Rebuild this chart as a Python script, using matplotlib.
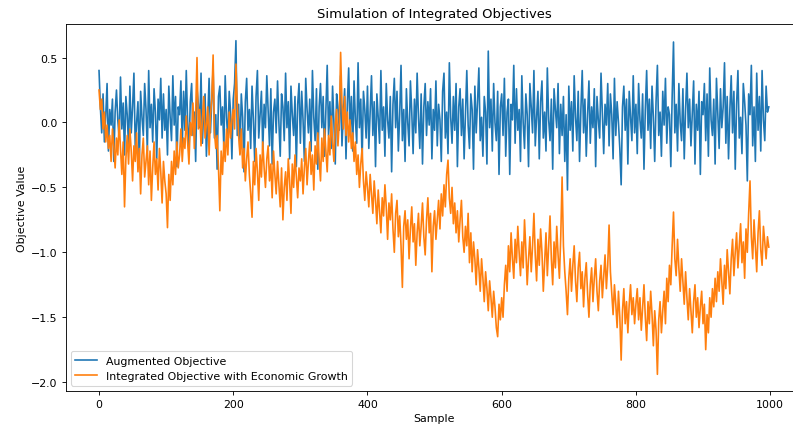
import matplotlib
matplotlib.use('Agg')
import matplotlib.pyplot as plt
import numpy as np

# every 2nd sample
samples = np.arange(0, 1000, 2)

augmented = [
    0.40, 0.12, -0.08, 0.22, -0.15, 0.05, 0.30, -0.22, 0.10, -0.02,
    0.18, -0.30, 0.08, 0.25, 0.02, -0.12, 0.35, -0.05, 0.15, -0.25,
    0.20, 0.06, -0.18, 0.28, -0.08, 0.12, 0.38, -0.20, 0.00, 0.16,
    -0.32, 0.24, 0.04, -0.10, 0.30, 0.10, -0.22, 0.40, -0.04, 0.14,
    -0.15, 0.26, 0.08, -0.28, 0.18, 0.02, 0.34, -0.12, 0.22, -0.06,
    0.10, -0.25, 0.28, 0.04, -0.14, 0.36, -0.02, 0.20, -0.34, 0.12,
    0.06, 0.32, -0.18, 0.24, -0.06, 0.40, 0.00, -0.22, 0.16, 0.30,
    -0.10, 0.08, -0.30, 0.26, 0.14, -0.04, 0.38, -0.16, 0.10, 0.22,
    -0.26, 0.02, 0.34, -0.08, 0.18, 0.42, -0.12, 0.06, -0.36, 0.20,
    0.28, -0.02, 0.12, -0.20, 0.36, 0.04, -0.14, 0.24, 0.08, -0.28,
    0.18, 0.30, 0.63, -0.10, 0.14, -0.24, 0.22, 0.04, -0.38, 0.16,
    0.34, -0.06, 0.10, -0.20, 0.28, 0.02, -0.30, 0.20, 0.40, -0.12,
    0.06, 0.24, -0.22, 0.14, -0.04, 0.36, 0.10, -0.18, 0.26, -0.32,
    0.08, 0.18, -0.08, 0.32, 0.00, -0.26, 0.22, 0.12, -0.14, 0.38,
    -0.04, 0.16, -0.28, 0.28, 0.06, -0.10, 0.20, -0.34, 0.14, 0.30,
    -0.16, 0.24, 0.02, -0.30, 0.34, 0.10, -0.08, 0.18, -0.22, 0.40,
    0.04, -0.14, 0.26, -0.36, 0.12, 0.30, -0.04, 0.20, -0.26, 0.08,
    0.44, -0.10, 0.16, -0.20, 0.28, 0.00, -0.32, 0.22, 0.12, -0.06,
    0.36, -0.18, 0.06, 0.26, -0.28, 0.14, 0.42, -0.08, 0.20, -0.22,
    0.32, 0.02, -0.16, 0.46, -0.04, 0.18, -0.30, 0.24, 0.10, -0.12,
    0.28, -0.20, 0.08, 0.36, -0.10, 0.16, -0.34, 0.22, 0.04, -0.16,
    0.40, -0.06, 0.12, -0.26, 0.30, 0.02, -0.12, 0.20, -0.38, 0.14,
    0.34, -0.04, 0.24, -0.22, 0.06, 0.44, -0.14, 0.10, -0.30, 0.26,
    0.00, -0.18, 0.32, 0.08, -0.24, 0.18, -0.08, 0.38, 0.04, -0.20,
    0.22, -0.32, 0.12, 0.30, -0.10, 0.16, -0.02, 0.26, -0.28, 0.10,
    -0.06, 0.32, -0.18, 0.14, 0.02, -0.30, 0.24, 0.38, -0.12, 0.08,
    -0.24, 0.46, 0.04, -0.16, 0.20, -0.06, 0.30, -0.34, 0.12, 0.26,
    -0.10, 0.18, -0.28, 0.06, 0.40, -0.02, -0.20, 0.22, 0.10, -0.36,
    0.28, -0.08, 0.16, 0.42, -0.14, 0.04, -0.26, 0.20, 0.08, -0.32,
    0.55, -0.04, 0.18, -0.22, 0.30, 0.00, -0.14, 0.24, -0.40, 0.12,
    0.22, -0.10, 0.34, -0.26, 0.08, 0.18, -0.40, 0.14, 0.02, 0.44,
    -0.16, 0.26, -0.06, 0.10, -0.30, 0.36, 0.00, -0.20, 0.22, 0.06,
    -0.34, 0.30, 0.12, -0.08, 0.40, -0.18, 0.04, 0.24, -0.28, 0.16,
    0.32, -0.12, 0.08, -0.22, 0.42, 0.02, -0.14, 0.18, -0.36, 0.26,
    0.10, -0.04, 0.30, -0.24, 0.14, -0.10, 0.20, -0.30, 0.06, -0.52,
    0.28, -0.06, 0.16, -0.22, 0.36, 0.04, -0.14, 0.24, -0.30, 0.10,
    0.40, -0.08, 0.18, -0.26, 0.06, 0.32, -0.16, 0.12, -0.04, 0.26,
    -0.34, 0.20, 0.02, -0.12, 0.38, 0.08, -0.24, 0.14, -0.02, 0.30,
    -0.18, 0.22, 0.06, -0.28, 0.34, -0.10, 0.16, 0.00, -0.20, -0.48,
    0.12, 0.28, -0.06, 0.18, -0.32, 0.24, 0.04, -0.14, 0.36, -0.08,
    0.14, -0.24, 0.30, 0.02, -0.12, 0.22, -0.36, 0.10, 0.40, -0.06,
    0.18, -0.20, 0.28, 0.04, -0.30, 0.16, 0.44, -0.10, 0.08, -0.26,
    0.24, -0.02, 0.34, -0.16, 0.12, 0.06, -0.34, 0.20, 0.62, -0.08,
    0.14, -0.22, 0.30, 0.00, -0.14, 0.26, -0.28, 0.10, 0.38, -0.04,
    0.18, -0.18, 0.08, 0.32, -0.32, 0.14, -0.06, 0.24, -0.40, 0.16,
    0.06, 0.30, -0.14, 0.22, -0.26, 0.42, 0.02, -0.10, 0.18, -0.32,
    0.34, 0.08, -0.20, 0.26, -0.04, 0.12, 0.46, -0.16, 0.20, -0.28,
    0.10, 0.36, -0.08, 0.24, -0.36, 0.14, 0.40, -0.12, 0.04, -0.24,
    0.30, 0.16, -0.02, -0.45, 0.22, 0.06, 0.44, -0.18, 0.12, -0.30,
    0.38, -0.06, 0.20, -0.22, 0.40, 0.02, -0.14, 0.28, 0.08, 0.12,
]

integrated = [
    0.25, 0.10, 0.18, -0.05, 0.08, -0.15, -0.02, -0.20, -0.10, -0.30,
    -0.05, -0.18, -0.35, -0.12, -0.25, 0.02, -0.20, -0.40, -0.15, -0.65,
    -0.28, -0.10, -0.32, -0.05, -0.22, -0.45, -0.18, -0.30, -0.08, -0.38,
    -0.20, -0.55, -0.25, -0.12, -0.42, -0.30, -0.18, -0.48, -0.22, -0.60,
    -0.35, -0.15, -0.40, -0.28, -0.52, -0.20, -0.38, -0.62, -0.30, -0.45,
    -0.55, -0.81, -0.40, -0.60, -0.30, -0.48, -0.22, -0.40, -0.15, -0.35,
    -0.25, -0.05, -0.30, -0.12, -0.20, 0.05, -0.15, -0.32, 0.00, -0.10,
    0.15, -0.20, 0.08, 0.50, -0.05, 0.10, -0.18, 0.02, 0.20, -0.12,
    -0.02, 0.12, -0.25, 0.05, 0.18, 0.52, -0.08, -0.20, -0.10, -0.35,
    -0.68, -0.22, -0.40, -0.15, -0.30, -0.05, -0.25, 0.08, -0.12, 0.02,
    0.10, -0.05, 0.45, 0.15, -0.10, -0.25, -0.05, -0.35, -0.20, -0.45,
    -0.28, -0.15, -0.40, -0.55, -0.73, -0.30, -0.48, -0.20, -0.38, -0.60,
    -0.25, -0.42, -0.15, -0.35, -0.50, -0.28, -0.18, -0.45, -0.32, -0.58,
    -0.22, -0.40, -0.55, -0.30, -0.48, -0.65, -0.35, -0.75, -0.50, -0.38,
    -0.60, -0.28, -0.45, -0.70, -0.32, -0.50, -0.25, -0.42, -0.58, -0.35,
    -0.45, -0.28, -0.55, -0.35, -0.20, -0.48, -0.30, -0.15, -0.40, -0.25,
    -0.52, -0.18, -0.32, -0.08, -0.28, -0.45, -0.12, -0.30, -0.05, -0.22,
    -0.38, -0.10, -0.25, 0.05, -0.15, -0.30, -0.02, 0.10, -0.18, 0.00,
    0.54, 0.15, -0.05, 0.20, -0.10, 0.08, -0.15, 0.02, -0.20, -0.08,
    -0.30, -0.15, -0.40, -0.25, -0.50, -0.32, -0.20, -0.45, -0.60, -0.38,
    -0.50, -0.65, -0.40, -0.55, -0.70, -0.45, -0.60, -0.78, -0.52, -0.68,
    -0.85, -0.58, -0.72, -0.48, -0.65, -0.90, -0.62, -0.75, -0.55, -0.82,
    -1.00, -0.70, -0.60, -0.88, -0.72, -0.95, -1.27, -0.80, -0.68, -0.90,
    -0.75, -1.05, -0.82, -0.65, -0.92, -0.78, -1.10, -0.85, -0.70, -0.95,
    -0.80, -0.62, -0.88, -1.02, -0.75, -0.58, -0.85, -0.70, -1.15, -0.80,
    -0.68, -0.90, -0.75, -0.60, -0.82, -0.55, -0.72, -0.48, -0.65, -0.40,
    -0.29, -0.58, -0.70, -0.50, -0.78, -0.62, -0.85, -0.68, -0.92, -0.75,
    -0.60, -0.88, -1.00, -0.80, -0.95, -0.70, -1.08, -0.85, -1.15, -0.92,
    -1.05, -1.25, -0.98, -1.12, -1.30, -1.05, -1.20, -1.38, -1.15, -1.28,
    -1.45, -1.22, -1.35, -1.50, -1.30, -1.42, -1.58, -1.65, -1.40, -1.52,
    -1.35, -1.50, -1.25, -1.10, -1.30, -0.95, -1.15, -0.85, -1.05, -1.20,
    -0.90, -1.08, -0.80, -1.00, -1.18, -0.92, -1.12, -0.75, -0.98, -1.25,
    -1.05, -0.88, -1.15, -0.95, -0.70, -1.02, -1.22, -0.90, -1.10, -0.82,
    -1.00, -1.30, -1.08, -0.85, -1.18, -0.95, -0.72, -1.05, -1.25, -0.92,
    -1.12, -0.80, -1.02, -1.20, -0.88, -0.42, -0.95, -1.15, -1.30, -1.48,
    -1.20, -1.05, -1.30, -1.10, -0.95, -1.22, -1.38, -1.12, -1.00, -1.28,
    -1.15, -1.42, -1.20, -1.08, -1.32, -1.50, -1.25, -1.12, -1.38, -1.20,
    -1.05, -1.30, -1.45, -1.22, -1.10, -1.35, -1.18, -1.02, -1.28, -1.10,
    -0.79, -1.15, -1.32, -1.48, -1.25, -1.40, -1.58, -1.30, -1.50, -1.83,
    -1.45, -1.28, -1.55, -1.38, -1.62, -1.40, -1.25, -1.48, -1.35, -1.55,
    -1.40, -1.28, -1.52, -1.35, -1.60, -1.42, -1.25, -1.50, -1.68, -1.38,
    -1.55, -1.30, -1.48, -1.72, -1.45, -1.60, -1.94, -1.52, -1.38, -1.62,
    -1.45, -1.30, -1.55, -1.20, -1.38, -1.10, -1.25, -0.95, -0.69, -1.05,
    -1.18, -0.90, -1.12, -1.30, -1.05, -1.22, -1.40, -1.15, -1.35, -1.52,
    -1.28, -1.45, -1.62, -1.38, -1.25, -1.50, -1.35, -1.58, -1.42, -1.30,
    -1.55, -1.40, -1.75, -1.48, -1.62, -1.35, -1.50, -1.28, -1.42, -1.20,
    -1.38, -1.15, -1.30, -1.05, -1.22, -1.40, -1.10, -1.28, -0.98, -1.15,
    -1.32, -1.05, -0.90, -1.18, -1.00, -0.85, -1.12, -0.95, -0.78, -1.08,
    -0.92, -1.20, -0.82, -1.00, -0.70, -0.45, -0.88, -1.05, -0.75, -0.95,
    -1.15, -0.85, -0.68, -0.98, -1.10, -0.80, -0.92, -1.05, -0.88, -0.96,
]

dpi = 79
fig = plt.figure(figsize=(793 / dpi, 429 / dpi), dpi=dpi)
ax = fig.add_axes([0.0826, 0.0862, 0.93, 0.8555])
ax.plot(samples, augmented, label='Augmented Objective')
ax.plot(samples, integrated, label='Integrated Objective with Economic Growth')
ax.set_xlim(-49.95, 1048.95)
ax.set_title('Simulation of Integrated Objectives')
ax.set_xlabel('Sample')
ax.set_ylabel('Objective Value')
ax.legend(loc='lower left')
fig.savefig('out.png', dpi=dpi)
